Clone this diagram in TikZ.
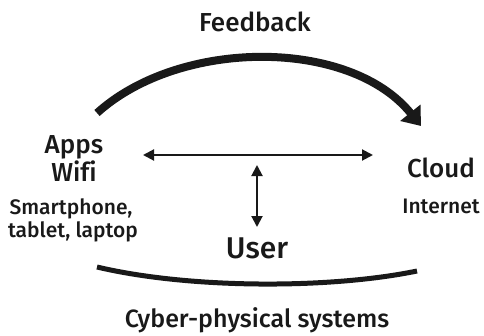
\documentclass[tikz,border=0pt]{standalone}
\usepackage{fontspec}
\setmainfont{Fira Sans Medium}[Ligatures=NoCommon]
\usepackage{tikz}
\usetikzlibrary{positioning, arrows.meta}

\begin{document}
\begin{tikzpicture}[
    x=1pt, y=-1pt,
    label/.style={anchor=base, inner sep=0pt, text=black!90, font=\fontsize{26}{30}\selectfont},
    small/.style={label, font=\fontsize{21}{24}\selectfont},
    link/.style={{Triangle[length=11pt,width=11pt]}-{Triangle[length=11pt,width=11pt]}, line width=2pt, black!90},
    bigarc/.style={-{Triangle[length=17pt,width=25pt]}, line width=8pt, black!90},
    basearc/.style={line width=5pt, black!90}
]
\useasboundingbox (0,0) rectangle (484,335);

% Labels
\node[label] (feedback) at (255,31) {Feedback};
\node[label] (apps) at (74,153) {Apps};
\node[label] (wifi) at (74,181) {Wifi};
\node[small] (smart) at (71,214) {Smartphone,};
\node[small] (devices) at (73,237) {tablet, laptop};
\node[label] (cloud) at (441,177) {Cloud};
\node[small] (internet) at (441,213) {Internet};
\node[label, font=\fontsize{30}{34}\selectfont] (user) at (257,258) {User};
\node[label, font=\fontsize{25}{28}\selectfont] (cps) at (257,327) {Cyber-physical systems};

% Arrow end points
\coordinate (fb_start) at (97,113);
\coordinate (fb_end)   at (421,126);
\coordinate (h_left)   at (143,155);
\coordinate (h_right)  at (373,155);
\coordinate (v_top)    at (257,165);
\coordinate (v_bot)    at (257,227);
\coordinate (cps_left)  at (97,267);
\coordinate (cps_right) at (417,271);

% Feedback arc
\draw[bigarc] (fb_start) .. controls (180,38) and (350,38) .. (fb_end);

% Apps <-> Cloud and User link
\draw[link] (h_left) -- (h_right);
\draw[link] (v_top) -- (v_bot);

% Cyber-physical base
\draw[basearc] (cps_left) .. controls (190,289) and (330,289) .. (cps_right);

\end{tikzpicture}
\end{document}
